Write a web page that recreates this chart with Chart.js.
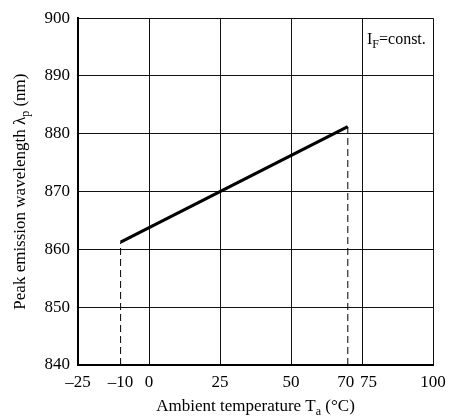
<!DOCTYPE html>
<html>
<head>
<meta charset="utf-8">
<script src="https://cdn.jsdelivr.net/npm/chart.js@4/dist/chart.umd.min.js"></script>
<style>
  body { margin: 0; background: #fff; }
  canvas { display: block; }
</style>
</head>
<body>
<canvas id="chart" width="455" height="419"></canvas>
<script>
// values
const temps = [-10, 70];
const wavelength = [861.25, 881.25];
const xTicks = [-25, -10, 0, 25, 50, 70, 75, 100];
const xGrid = [-25, 0, 25, 50, 75, 100];
const yTicks = [840, 850, 860, 870, 880, 890, 900];

const FONT = "'Liberation Serif', 'Times New Roman', serif";

// text with subscripts, parts = [[text, isSub], ...]
function drawRich(ctx, parts, x, y, size, align) {
  const subSize = Math.round(size * 0.72);
  let total = 0;
  parts.forEach(p => {
    ctx.font = (p[1] ? subSize : size) + "px " + FONT;
    total += ctx.measureText(p[0]).width;
  });
  let cx = align === "center" ? x - total / 2 : x;
  ctx.textAlign = "left";
  ctx.textBaseline = "alphabetic";
  parts.forEach(p => {
    ctx.font = (p[1] ? subSize : size) + "px " + FONT;
    ctx.fillText(p[0], cx, y + (p[1] ? size * 0.25 : 0));
    cx += ctx.measureText(p[0]).width;
  });
}

const labelsPlugin = {
  id: "labels",
  afterDraw(chart) {
    const ctx = chart.ctx;
    const a = chart.chartArea;
    ctx.save();
    ctx.fillStyle = "#000";
    drawRich(ctx, [["Ambient temperature T", false], ["a", true], [" (°C)", false]],
      (a.left + a.right) / 2, 411, 17, "center");
    ctx.translate(25, (a.top + a.bottom) / 2);
    ctx.rotate(-Math.PI / 2);
    drawRich(ctx, [["Peak emission wavelength λ", false], ["p", true], [" (nm)", false]],
      0, 0, 17, "center");
    ctx.restore();
    ctx.save();
    ctx.fillStyle = "#000";
    drawRich(ctx, [["I", false], ["F", true], ["=const.", false]], a.right - 66, 44, 16, "left");
    ctx.restore();
  }
};

new Chart(document.getElementById("chart"), {
  type: "line",
  data: {
    datasets: [
      {
        data: temps.map((t, i) => ({ x: t, y: wavelength[i] })),
        borderColor: "#000",
        borderWidth: 3.2,
        pointRadius: 0
      },
      {
        data: [{ x: temps[0], y: yTicks[0] }, { x: temps[0], y: wavelength[0] }],
        borderColor: "#000",
        borderWidth: 1,
        borderDash: [7, 4],
        pointRadius: 0
      },
      {
        data: [{ x: temps[1], y: yTicks[0] }, { x: temps[1], y: wavelength[1] }],
        borderColor: "#000",
        borderWidth: 1,
        borderDash: [7, 4],
        pointRadius: 0
      }
    ]
  },
  options: {
    responsive: false,
    animation: false,
    layout: { padding: { top: 10, right: 22, left: 0, bottom: 0 } },
    plugins: { legend: { display: false }, tooltip: { enabled: false } },
    scales: {
      x: {
        type: "linear",
        min: -25,
        max: 100,
        afterBuildTicks: s => { s.ticks = xTicks.map(v => ({ value: v })); },
        afterFit: s => { s.height = 54; },
        grid: {
          drawTicks: false,
          lineWidth: 1,
          color: c => (c.tick && xGrid.includes(c.tick.value)) ? "#111" : "rgba(0,0,0,0)"
        },
        border: { color: "#000", width: 2 },
        ticks: {
          color: "#000",
          font: { family: FONT, size: 17 },
          padding: 7,
          maxRotation: 0,
          autoSkip: false,
          // nudge 70 / 75 apart like the original
          callback: v => {
            const s = String(v).replace("-", "–");
            if (v === 70) return s + " ";
            if (v === 75) return "   " + s;
            return s;
          }
        }
      },
      y: {
        min: 840,
        max: 900,
        afterBuildTicks: s => { s.ticks = yTicks.map(v => ({ value: v })); },
        afterFit: s => { s.width = 78; },
        grid: { drawTicks: false, lineWidth: 1, color: "#111" },
        border: { color: "#000", width: 2 },
        ticks: {
          color: "#000",
          font: { family: FONT, size: 17 },
          padding: 8
        }
      }
    }
  },
  plugins: [labelsPlugin]
});
</script>
</body>
</html>
